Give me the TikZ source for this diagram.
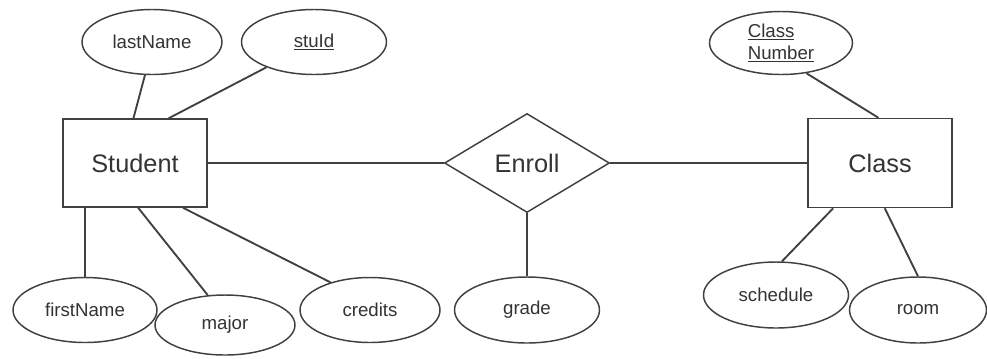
\documentclass[tikz,border=0pt]{standalone}
\usepackage{fontspec}
\setmainfont{Liberation Sans}
\usetikzlibrary{shapes,positioning}
\colorlet{penColor}{black!75}
\colorlet{textColor}{black!80}
\tikzset{
  entity/.style={draw=penColor, line width=1.1pt, rectangle, inner sep=0pt, text=textColor, font=\fontsize{19}{22}\selectfont},
  relship/.style={draw=penColor, line width=1.1pt, diamond, inner sep=0pt, text=textColor, font=\fontsize{19}{22}\selectfont},
  attr/.style={draw=penColor, line width=1.1pt, ellipse, inner sep=0pt, text=textColor, font=\fontsize{14}{16}\selectfont},
  link/.style={penColor, line width=1.4pt}
}
\begin{document}
\begin{tikzpicture}[x=0.75pt,y=-0.75pt]
\useasboundingbox (0,0) rectangle (987,358);
\node[entity, minimum width=108pt, minimum height=66pt] (stud) at (135,163) {Student};
\node[entity, minimum width=108pt, minimum height=66.75pt] (cls) at (880,163) {Class};
\node[relship, minimum width=123.75pt, minimum height=74.25pt] (enroll) at (527,163) {Enroll};
% Student attributes
\node[attr, minimum width=105pt, minimum height=48.75pt] (lastName) at (152,42) {lastName};
\node[attr, minimum width=108.75pt, minimum height=48.75pt] (stuId) at (314,42) {\underline{stuId}};
\node[attr, minimum width=108pt, minimum height=48.75pt] (firstName) at (85,310) {firstName};
\node[attr, minimum width=105pt, minimum height=45pt] (major) at (225,325) {major};
\node[attr, minimum width=105pt, minimum height=48.75pt] (credits) at (370,310) {credits};
% relationship attribute
\node[attr, minimum width=108.75pt, minimum height=49.5pt] (grade) at (527,310) {grade};
% Class attributes
\node[attr, minimum width=107.25pt, minimum height=47.25pt, align=left] (classNum) at (781,43) {\underline{Class}\\\underline{Number}};
\node[attr, minimum width=108.75pt, minimum height=49.5pt] (schedule) at (776,295) {schedule};
\node[attr, minimum width=102.75pt, minimum height=49.5pt] (room) at (918,310) {room};

\draw[link] (lastName.258) -- (stud.92);
\draw[link] (stuId.208) -- (stud.53);
\draw[link] (firstName.north) -- (firstName.north |- stud.south);
\draw[link] (stud.274) -- (major.120);
\draw[link] (stud.317) -- (credits.145);
\draw[link] (stud.east) -- (enroll.west);
\draw[link] (enroll.east) -- (cls.west);
\draw[link] (enroll.south) -- (grade.north);
\draw[link] (classNum.310) -- (cls.92);
\draw[link] (cls.224) -- (schedule.80);
\draw[link] (cls.276) -- (room.north);
\end{tikzpicture}
\end{document}
